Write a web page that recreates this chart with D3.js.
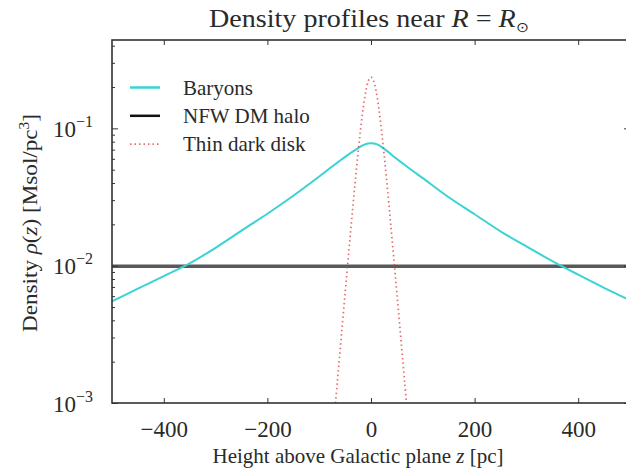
<!DOCTYPE html>
<html><head><meta charset="utf-8">
<script src="https://cdn.jsdelivr.net/npm/d3@7"></script>
<style>
html,body{margin:0;padding:0;background:#fff;}
svg{display:block;}
text{font-family:"Liberation Serif","Times New Roman",serif;fill:#2a2a2a;}
</style></head>
<body>
<svg id="chart" width="626" height="472"></svg>
<script>
// ---- data ----
const baryonZ   = [-500,-450,-400,-350,-300,-250,-200,-150,-100,-75,-50,-25,-12,0,12,25,50,75,100,150,200,250,300,350,400,450,500];
const baryonRho = [0.0055,0.0068,0.0084,0.0104,0.0135,0.0180,0.0239,0.0323,0.0446,0.0527,0.0620,0.0718,0.0765,0.0780,0.0764,0.0712,0.0598,0.0508,0.0434,0.0315,0.0237,0.0178,0.0138,0.0108,0.0086,0.0069,0.0056];
const nfwZ   = [-500,500];
const nfwRho = [0.0099,0.0099];
const diskZ   = [-70,-65,-60,-55,-50,-45,-40,-35,-30,-25,-20,-15,-10,-5,0,5,10,15,20,25,30,35,40,45,50,55,60,65,70];
const diskRho = [0.00086,0.00142,0.00233,0.00383,0.00628,0.01026,0.01667,0.0269,0.0427,0.0662,0.0991,0.141,0.186,0.222,0.236,0.222,0.186,0.141,0.0991,0.0662,0.0427,0.0269,0.01667,0.01026,0.00628,0.00383,0.00233,0.00142,0.00086];
const xTicks = [-400,-200,0,200,400];
const yMajorTicks = [1e-3,1e-2,1e-1];
const yMajorLabels = ["\u22123","\u22122","\u22121"];
const yMinorTicks = [2e-3,3e-3,4e-3,5e-3,6e-3,7e-3,8e-3,9e-3,2e-2,3e-2,4e-2,5e-2,6e-2,7e-2,8e-2,9e-2,2e-1,3e-1,4e-1];
const legendLabels = ["Baryons","NFW DM halo","Thin dark disk"];

// ---- layout ----
const L = 112, R = 630, T = 40, B = 403;
const svg = d3.select("#chart");
const x = d3.scaleLinear().domain([-500,500]).range([L,R]);
const y = d3.scaleLog().domain([1e-3,0.44]).range([B,T]);

const colBaryon = "#3ad3d3", colNfw = "#222", colDisk = "#e0474c";

svg.append("defs").append("clipPath").attr("id","clip")
  .append("rect").attr("x",L).attr("y",T).attr("width",R-L).attr("height",B-T);

const plot = svg.append("g").attr("clip-path","url(#clip)");
const line = d3.line().x(d=>x(d[0])).y(d=>y(d[1])).curve(d3.curveCatmullRom);

plot.append("path").datum(nfwZ.map((z,i)=>[z,nfwRho[i]]))
  .attr("d",line).attr("fill","none").attr("stroke",colNfw).attr("stroke-width",3.6).attr("stroke-opacity",0.75);
plot.append("path").datum(baryonZ.map((z,i)=>[z,baryonRho[i]]))
  .attr("d",line).attr("fill","none").attr("stroke",colBaryon).attr("stroke-width",2);
plot.append("path").datum(diskZ.map((z,i)=>[z,diskRho[i]]))
  .attr("d",line)
  .attr("fill","none").attr("stroke",colDisk).attr("stroke-width",1.7)
  .attr("stroke-dasharray","1.5,3").attr("stroke-opacity",0.8);

// ---- axes ----
const axisStyle = g => { g.select(".domain").remove(); g.selectAll("line").attr("stroke","#333").attr("stroke-width",1); };
const gB = svg.append("g").attr("transform",`translate(0,${B})`)
  .call(d3.axisBottom(x).tickValues(xTicks).tickSize(-5).tickFormat(d3.format("d")));
axisStyle(gB);
gB.selectAll("text").attr("y",34).attr("dy",0).attr("font-size",23).attr("fill","#2a2a2a");
const gT = svg.append("g").attr("transform",`translate(0,${T})`)
  .call(d3.axisTop(x).tickValues(xTicks).tickSize(-5).tickFormat(""));
axisStyle(gT);

function yAxes(axisFn, xpos){
  const gM = svg.append("g").attr("transform",`translate(${xpos},0)`)
    .call(axisFn(y).tickValues(yMajorTicks).tickSize(-6).tickFormat(""));
  axisStyle(gM);
  const gm = svg.append("g").attr("transform",`translate(${xpos},0)`)
    .call(axisFn(y).tickValues(yMinorTicks).tickSize(-3).tickFormat(""));
  axisStyle(gm);
  return gM;
}
const gL = yAxes(d3.axisLeft, L);
yAxes(d3.axisRight, R);
gL.selectAll(".tick").each(function(d,i){
  const t = d3.select(this).append("text").attr("x",-19).attr("y",8).attr("text-anchor","end")
    .attr("font-size",23).attr("fill","#2a2a2a");
  t.append("tspan").text("10");
  t.append("tspan").attr("font-size",16).attr("dy",-10).text(yMajorLabels[i]);
});

// frame
svg.append("rect").attr("x",L).attr("y",T).attr("width",R-L).attr("height",B-T)
  .attr("fill","none").attr("stroke","#333").attr("stroke-width",1.6);

// ---- title ----
const title = svg.append("text").attr("x",369).attr("y",27).attr("text-anchor","middle").attr("font-size",25.5)
  .attr("textLength",320).attr("lengthAdjust","spacingAndGlyphs");
title.append("tspan").text("Density profiles near ");
title.append("tspan").attr("font-style","italic").text("R");
title.append("tspan").text(" = ");
title.append("tspan").attr("font-style","italic").text("R");
title.append("tspan").attr("font-size",14).attr("dy",5).text("\u2299");

// ---- axis labels ----
const xl = svg.append("text").attr("x",358).attr("y",463).attr("text-anchor","middle").attr("font-size",21);
xl.append("tspan").text("Height above Galactic plane ");
xl.append("tspan").attr("font-style","italic").text("z");
xl.append("tspan").text(" [pc]");

const yl = svg.append("text").attr("transform","translate(37,223) rotate(-90)").attr("text-anchor","middle").attr("font-size",21)
  .attr("textLength",218).attr("lengthAdjust","spacingAndGlyphs");
yl.append("tspan").text("Density ");
yl.append("tspan").attr("font-style","italic").text("\u03c1");
yl.append("tspan").text("(");
yl.append("tspan").attr("font-style","italic").text("z");
yl.append("tspan").text(") [Msol/pc");
yl.append("tspan").attr("font-size",14).attr("dy",-8).text("3");
yl.append("tspan").attr("dy",8).text("]");

// ---- legend ----
const legendStyles = [
  {c:colBaryon, w:2.5, dash:null, op:1},
  {c:"#111", w:2.5, dash:null, op:1},
  {c:colDisk, w:1.7, dash:"1.5,3", op:0.8}
];
const lg = svg.append("g");
legendLabels.forEach((lab,i)=>{
  const yy = 87.5 + i*28.3;
  const s = legendStyles[i];
  lg.append("line").attr("x1",130).attr("x2",160).attr("y1",yy).attr("y2",yy)
    .attr("stroke",s.c).attr("stroke-width",s.w).attr("stroke-dasharray",s.dash).attr("stroke-opacity",s.op);
  lg.append("text").attr("x",183).attr("y",yy+7).attr("font-size",21).text(lab);
});
</script>
</body></html>
